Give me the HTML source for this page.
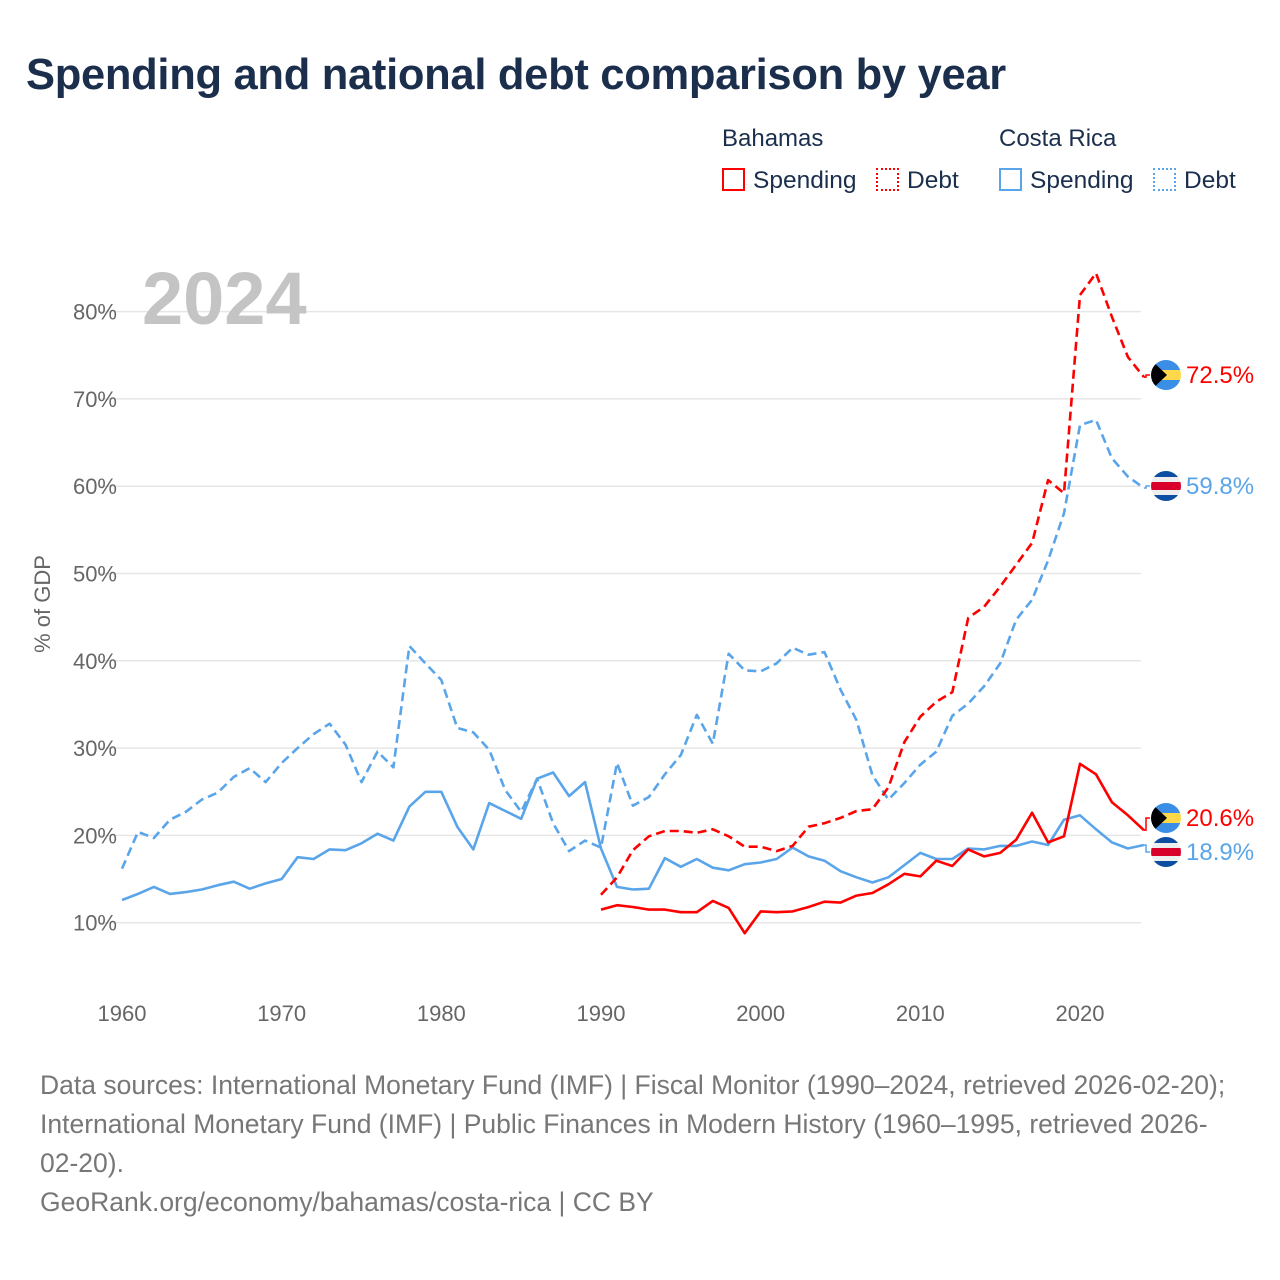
<!DOCTYPE html>
<html><head><meta charset="utf-8"><style>
body{margin:0;background:#fff;font-family:"Liberation Sans",sans-serif;}
#wrap{position:relative;width:1280px;height:1280px;overflow:hidden;background:#fff}
.t{position:absolute;white-space:nowrap}
</style></head><body>
<div id="wrap">
<div class="t" style="left:26px;top:51px;font-size:43.5px;font-weight:bold;color:#1b2f4d;letter-spacing:-0.3px">Spending and national debt comparison by year</div>
<div class="t" style="left:722px;top:125px;font-size:24px;color:#1b2f4d">Bahamas</div>
<div class="t" style="left:999px;top:125px;font-size:24px;color:#1b2f4d">Costa Rica</div>
<div class="t" style="left:722px;top:167px;font-size:24.5px;color:#1b2f4d"><span style="display:inline-block;width:23px;height:23px;border:2px solid #f00;box-sizing:border-box;vertical-align:-3px;margin-right:8px"></span>Spending</div>
<div class="t" style="left:876px;top:167px;font-size:24.5px;color:#1b2f4d"><span style="display:inline-block;width:23px;height:23px;border:2px dotted #f00;box-sizing:border-box;vertical-align:-3px;margin-right:8px"></span>Debt</div>
<div class="t" style="left:999px;top:167px;font-size:24.5px;color:#1b2f4d"><span style="display:inline-block;width:23px;height:23px;border:2px solid #5aa5ea;box-sizing:border-box;vertical-align:-3px;margin-right:8px"></span>Spending</div>
<div class="t" style="left:1153px;top:167px;font-size:24.5px;color:#1b2f4d"><span style="display:inline-block;width:23px;height:23px;border:2px dotted #5aa5ea;box-sizing:border-box;vertical-align:-3px;margin-right:8px"></span>Debt</div>
<svg id="chart" width="1280" height="1280" style="position:absolute;left:0;top:0"></svg>
<div class="t" style="left:40px;top:1066px;font-size:26.5px;line-height:39px;color:#777;white-space:normal;width:1195px">Data sources: International Monetary Fund (IMF) | Fiscal Monitor (1990–2024, retrieved 2026-02-20); International Monetary Fund (IMF) | Public Finances in Modern History (1960–1995, retrieved 2026-02-20).<br>GeoRank.org/economy/bahamas/costa-rica | CC BY</div>
</div>
<script>
const crYears=[];for(let y=1960;y<=2024;y++)crYears.push(y);
const bhYears=[];for(let y=1990;y<=2024;y++)bhYears.push(y);
const crDebt=[16.2,20.4,19.7,21.8,22.7,24.1,24.9,26.7,27.7,26.1,28.3,30.0,31.6,32.8,30.4,26.1,29.6,27.8,41.7,39.7,37.8,32.3,31.8,29.8,25.2,22.7,26.5,21.4,18.2,19.4,18.6,28.3,23.4,24.4,27.0,29.2,33.8,30.5,40.8,38.9,38.8,39.7,41.5,40.7,41.0,36.7,33.2,26.9,24.1,26.0,28.1,29.6,33.7,35.1,37.1,39.7,44.7,47.0,51.5,56.9,67.0,67.6,63.2,61.1,59.8];
const crSpend=[12.6,13.3,14.1,13.3,13.5,13.8,14.3,14.7,13.9,14.5,15.0,17.5,17.3,18.4,18.3,19.1,20.2,19.4,23.3,25.0,25.0,21.0,18.4,23.7,22.8,21.9,26.5,27.2,24.5,26.1,18.5,14.1,13.8,13.9,17.4,16.4,17.3,16.3,16.0,16.7,16.9,17.3,18.6,17.6,17.1,15.9,15.2,14.6,15.2,16.6,18.0,17.3,17.3,18.5,18.4,18.8,18.8,19.3,18.9,21.8,22.3,20.7,19.2,18.5,18.9];
const bhDebt=[13.2,15.2,18.3,19.9,20.5,20.5,20.3,20.7,19.9,18.7,18.7,18.2,18.8,21.0,21.4,22.0,22.8,23.0,25.5,30.7,33.6,35.3,36.4,44.9,46.2,48.5,51.0,53.5,60.7,59.2,81.9,84.4,79.4,74.8,72.5];
const bhSpend=[11.5,12.0,11.8,11.5,11.5,11.2,11.2,12.5,11.7,8.8,11.3,11.2,11.3,11.8,12.4,12.3,13.1,13.4,14.4,15.6,15.3,17.1,16.5,18.4,17.6,18.0,19.5,22.6,19.2,19.9,28.2,27.0,23.8,22.3,20.6];
const yTicks=[10,20,30,40,50,60,70,80];
const xTicks=[1960,1970,1980,1990,2000,2010,2020];
const X=y=>122+(y-1960)*(958/60);
const Y=v=>1010-v*8.73;
const svg=document.getElementById('chart');const NS='http://www.w3.org/2000/svg';
function mk(t,a){const e=document.createElementNS(NS,t);for(const k in a)e.setAttribute(k,a[k]);svg.appendChild(e);return e;}
yTicks.forEach(v=>{
 const g=mk('line',{x1:100,x2:1141,y1:Y(v),y2:Y(v),stroke:'#e6e6e6','stroke-width':1.5});
 
 
 const t=mk('text',{x:117,y:Y(v)+8,'text-anchor':'end','font-size':22,fill:'#666','font-family':'Liberation Sans'});
 t.textContent=v+'%';
 
 
});
xTicks.forEach(v=>{
 const t=mk('text',{x:X(v),y:1021,'text-anchor':'middle','font-size':22,fill:'#666','font-family':'Liberation Sans'});
 t.textContent=v;
 
 
});
const yt=mk('text',{x:0,y:0,transform:'translate(50,604) rotate(-90)','text-anchor':'middle','font-size':22,fill:'#666','font-family':'Liberation Sans'});
yt.textContent='% of GDP';


const yr=mk('text',{x:142,y:324,'font-size':74,'font-weight':'bold',fill:'#c4c4c4','font-family':'Liberation Sans'});
yr.textContent='2024';


function line(years,vals,color,dash,name){
 const d=vals.map((v,i)=>(i?'L':'M')+X(years[i]).toFixed(1)+','+Y(v).toFixed(1)).join('');
 const p=mk('path',{d:d,fill:'none',stroke:color,'stroke-width':2.6,'stroke-linejoin':'round'});
 if(dash)p.setAttribute('stroke-dasharray','9,5');
 
 
}
line(crYears,crDebt,'#5aa5ea',true,'costa-rica-debt-line');
line(crYears,crSpend,'#5aa5ea',false,'costa-rica-spending-line');
line(bhYears,bhDebt,'#ff0000',true,'bahamas-debt-line');
line(bhYears,bhSpend,'#ff0000',false,'bahamas-spending-line');
function flag(cx,cy,type,name){
 const g=document.createElementNS(NS,'g');svg.appendChild(g);
 
 
 const id='c'+Math.round(cy);
 const cp=document.createElementNS(NS,'clipPath');cp.setAttribute('id',id);
 const c=document.createElementNS(NS,'circle');c.setAttribute('cx',cx);c.setAttribute('cy',cy);c.setAttribute('r',15);cp.appendChild(c);g.appendChild(cp);
 const inner=document.createElementNS(NS,'g');inner.setAttribute('clip-path','url(#'+id+')');g.appendChild(inner);
 const r=(y,h,f)=>{const e=document.createElementNS(NS,'rect');e.setAttribute('x',cx-15);e.setAttribute('y',y);e.setAttribute('width',30);e.setAttribute('height',h);e.setAttribute('fill',f);inner.appendChild(e);};
 if(type==='bh'){r(cy-15,10,'#3a8ee6');r(cy-5,10,'#ffd84a');r(cy+5,10,'#3a8ee6');
  const t=document.createElementNS(NS,'polygon');t.setAttribute('points',(cx-15)+','+(cy-15)+' '+(cx+1)+','+cy+' '+(cx-15)+','+(cy+15));t.setAttribute('fill','#000');inner.appendChild(t);}
 else{r(cy-15,6,'#0b4ea2');r(cy-9,5,'#eee');r(cy-4,8,'#d8002b');r(cy+4,5,'#eee');r(cy+9,6,'#0b4ea2');}
}
const endLabels=[
 {v:bhDebt[bhDebt.length-1],ly:375,c:'#ff0000',f:'bh',n:'bahamas-debt'},
 {v:crDebt[crDebt.length-1],ly:486,c:'#5aa5ea',f:'cr',n:'costa-rica-debt'},
 {v:bhSpend[bhSpend.length-1],ly:818,c:'#ff0000',f:'bh',n:'bahamas-spending'},
 {v:crSpend[crSpend.length-1],ly:852,c:'#5aa5ea',f:'cr',n:'costa-rica-spending'}];
endLabels.forEach(o=>{
 const ln=mk('polyline',{points:X(2024)+','+Y(o.v)+' 1146,'+Y(o.v)+' 1146,'+o.ly+' 1150,'+o.ly,fill:'none',stroke:o.c,'stroke-width':1.5});
 
 
 flag(1166,o.ly,o.f,o.n+'-flag');
 const t=mk('text',{x:1186,y:o.ly+8,'font-size':24,fill:o.c,'font-family':'Liberation Sans'});
 t.textContent=o.v.toFixed(1)+'%';
 
 
});
</script>
</body></html>
